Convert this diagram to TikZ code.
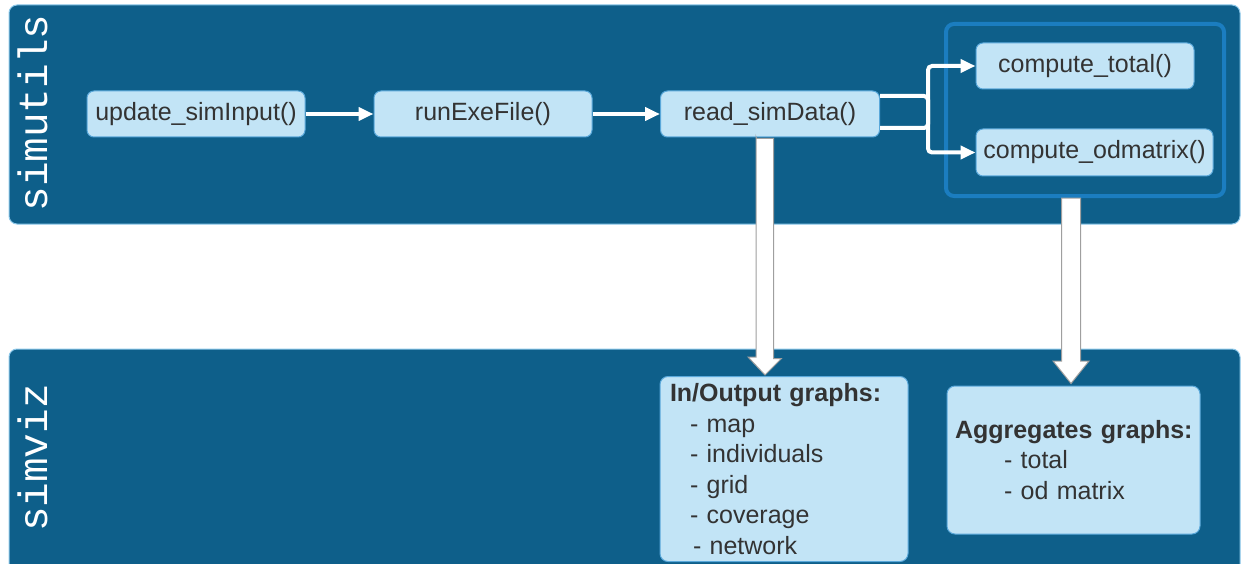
\documentclass[tikz,border=0pt]{standalone}
\usepackage{fontspec}
\setmainfont{Liberation Sans}
\newfontfamily\labelmono{Liberation Mono}
\usetikzlibrary{arrows.meta,calc}
\definecolor{panelfill}{HTML}{0E5F8A}
\definecolor{panelline}{HTML}{8CC8EA}
\definecolor{nodefill}{HTML}{C2E4F6}
\definecolor{nodeline}{HTML}{5AA8DA}
\definecolor{groupline}{HTML}{1B7DC0}
\definecolor{txt}{HTML}{333333}
\begin{document}
\begin{tikzpicture}[x=1pt,y=-1pt,
  panel/.style={fill=panelfill,draw=panelline,line width=1pt,rounded corners=8pt},
  fnode/.style={rounded corners=7pt,fill=nodefill,draw=nodeline,line width=1pt,
    minimum height=46pt,inner sep=0pt,text=txt,font=\fontsize{25}{30}\selectfont},
  listbox/.style={rounded corners=8pt,fill=nodefill,draw=nodeline,line width=1pt,
    inner xsep=10pt,inner ysep=0pt,align=left,text=txt,font=\fontsize{25}{30.6}\selectfont},
  wirearrow/.style={draw=white,line width=4pt,-{Triangle[length=15pt,width=13pt]}},
  bigarrow/.style={fill=white,draw=gray!75,line width=1pt,line join=miter},
  panellabel/.style={text=white,rotate=90,font=\labelmono\fontsize{41}{41}\selectfont,inner sep=0pt}
]
\useasboundingbox (0,0) rectangle (1241,564);
% panels
\path[panel] (9,5) rectangle (1240,224);
\path[panel] (9,349) rectangle (1240,600);
\node[panellabel] (lutils) at (33,113) {simutils};
\node[panellabel] (lviz) at (33,458) {simviz};
% group box
\draw[groupline,line width=4pt,rounded corners=8pt] (946,24) rectangle (1224,196);
\coordinate (grpbot) at (1071,198);
% function nodes
\node[fnode,minimum width=218pt] (upd) at (196,114) {update\_simInput()};
\node[fnode,minimum width=218pt] (run) at (483,114) {runExeFile()};
\node[fnode,minimum width=219pt] (read) at (770,114) {read\_simData()};
\node[fnode,minimum width=218pt] (tot) at (1085,66) {compute\_total()};
\node[fnode,minimum width=237pt,minimum height=47pt] (odm) at (1094.5,152.5) {compute\_odmatrix()};
% output boxes
\node[listbox,minimum width=248pt,minimum height=185pt,text width=228pt] (io) at (784,469)
  {\textbf{In/Output graphs:}\\
   \hspace*{20pt}- map\\
   \hspace*{20pt}- individuals\\
   \hspace*{20pt}- grid\\
   \hspace*{20pt}- coverage\\
   \hspace*{23pt}- network};
\node[listbox,inner xsep=4pt,minimum width=253pt,minimum height=148pt,text width=245pt] (agg) at (1073.5,460)
  {\hspace*{4pt}\textbf{Aggregates graphs:}\\
   \hspace*{53pt}- total\\
   \hspace*{53pt}- od matrix};
% small arrows
\draw[wirearrow] (upd.east) -- (run.west);
\draw[wirearrow] (run.east) -- (read.west);
\draw[wirearrow,rounded corners=4pt] ([yshift=-14pt]read.east) -| (928,66) -- (tot.west);
\draw[wirearrow,rounded corners=4pt] ([yshift=18pt]read.east) -| (928,152.5) -- (odm.west);
% big hollow arrows
\path[bigarrow] ($(read.south)+(-13.5,1)$) -- ($(read.south)+(3.5,1)$) -- ++(0,220) -- ++(8,0)
  -- ($(io.north)+(-19,-1)$) -- ++(-17,-18) -- ++(8,0) -- ++(0,-220) -- cycle;
\path[bigarrow] ($(grpbot)+(-9.5,0)$) -- ($(grpbot)+(9.5,0)$) -- (1080.5,361) -- (1089,361)
  -- ($(agg.north)+(-2.5,-2)$) -- (1053,361) -- (1061.5,361) -- cycle;
\end{tikzpicture}
\end{document}
